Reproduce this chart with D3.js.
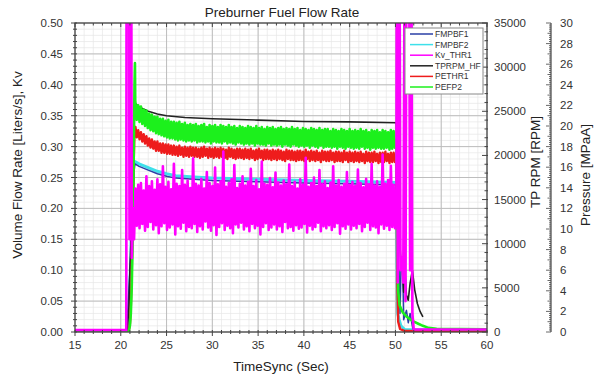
<!DOCTYPE html>
<html>
<head>
<meta charset="utf-8">
<script src="https://cdn.jsdelivr.net/npm/d3@7"></script>
<style>
  body { margin: 0; background: #fff; }
  svg { font-family: "Liberation Sans", Arial, sans-serif; }
</style>
</head>
<body>
<div id="chart"></div>
<script>
// steady-state noise bands, sampled every 0.3 s from 21.6 to 49.8 s (hi, then lo half a step later)
const bandStart = 21.6;
const bandStep = 0.3;

const kvHi = [.232,.238,.241,.229,.252,.236,.244,.230,.247,.239,
  .268,.235,.243,.231,.272,.240,.236,.262,.238,.245,
  .233,.281,.240,.237,.248,.232,.259,.241,.236,.266,
  .239,.244,.292,.235,.241,.247,.270,.233,.240,.252,
  .237,.243,.264,.236,.246,.231,.276,.240,.238,.249,
  .234,.258,.242,.237,.245,.239,.271,.236,.243,.232,
  .247,.238,.282,.235,.241,.250,.236,.262,.239,.244,
  .233,.242,.268,.237,.246,.235,.240,.259,.238,.243,
  .236,.263,.241,.234,.248,.239,.272,.237,.244,.235,
  .287,.240,.246,.269,.238];
const kvLo = [.172,.168,.175,.164,.170,.178,.166,.173,.160,.171,
  .176,.165,.169,.174,.158,.171,.167,.177,.163,.170,
  .168,.175,.162,.171,.166,.179,.169,.164,.173,.157,
  .170,.176,.165,.172,.168,.160,.174,.169,.177,.166,
  .171,.163,.175,.168,.172,.158,.170,.176,.165,.169,
  .174,.166,.171,.162,.178,.168,.170,.164,.173,.167,
  .169,.175,.161,.172,.166,.170,.177,.163,.171,.168,
  .173,.165,.170,.176,.159,.171,.167,.174,.166,.172,
  .168,.175,.163,.170,.177,.165,.171,.169,.160,.174,
  .167,.172,.165,.170,.168];

const pefpHi = [22.3,22.0,21.9,21.6,21.5,21.2,21.1,20.9,20.9,20.7,
  20.7,20.5,20.6,20.4,20.4,20.3,20.4,20.2,20.3,20.1,
  20.2,20.1,20.2,20.0,20.1,20.2,19.9,20.1,20.0,20.1,
  19.9,20.1,20.0,19.9,20.1,19.9,20.0,19.8,20.0,19.9,
  19.8,20.0,19.9,19.8,20.0,19.8,19.9,19.7,19.9,19.8,
  19.9,19.7,19.8,19.9,19.7,19.8,19.7,19.9,19.7,19.8,
  19.6,19.8,19.7,19.6,19.8,19.7,19.6,19.8,19.6,19.7,
  19.7,19.5,19.7,19.6,19.5,19.7,19.6,19.5,19.7,19.5,
  19.6,19.5,19.7,19.5,19.6,19.4,19.6,19.5,19.6,19.4,
  19.6,19.5,19.4,19.6,19.5];
const pefpLo = [20.6,20.4,20.2,20.0,19.8,19.6,19.5,19.3,19.2,19.1,
  19.0,18.9,18.8,18.8,18.7,18.6,18.7,18.6,18.5,18.6,
  18.5,18.6,18.4,18.5,18.5,18.4,18.5,18.3,18.5,18.4,
  18.4,18.3,18.5,18.3,18.4,18.3,18.2,18.4,18.3,18.2,
  18.3,18.2,18.3,18.1,18.3,18.2,18.2,18.1,18.3,18.1,
  18.2,18.1,18.2,18.0,18.2,18.1,18.0,18.2,18.1,18.0,
  18.1,18.0,18.1,17.9,18.1,18.0,17.9,18.1,17.9,18.0,
  18.0,17.9,18.0,17.8,18.0,17.9,17.8,18.0,17.9,17.8,
  17.9,17.8,18.0,17.8,17.9,17.7,17.9,17.8,17.9,17.8,
  17.8,17.9,17.7,17.8,17.9];

const pethrHi = [19.9,19.6,19.4,19.2,19.0,18.8,18.7,18.5,18.5,18.3,
  18.3,18.2,18.2,18.1,18.1,18.0,18.1,17.9,18.0,17.9,
  18.0,17.9,17.9,17.8,17.9,18.0,17.8,17.9,17.8,17.9,
  17.8,17.9,17.8,17.7,17.9,17.8,17.7,17.8,17.8,17.7,
  17.8,17.7,17.8,17.6,17.7,17.8,17.6,17.7,17.7,17.6,
  17.7,17.6,17.7,17.6,17.5,17.7,17.6,17.6,17.5,17.6,
  17.6,17.5,17.7,17.5,17.6,17.5,17.6,17.4,17.6,17.5,
  17.5,17.6,17.4,17.5,17.5,17.4,17.6,17.4,17.5,17.4,
  17.5,17.4,17.5,17.3,17.5,17.4,17.4,17.5,17.3,17.4,
  17.4,17.5,17.3,17.4,17.4];
const pethrLo = [18.9,18.7,18.5,18.3,18.1,17.9,17.8,17.6,17.6,17.4,
  17.4,17.3,17.3,17.2,17.2,17.1,17.2,17.0,17.1,17.0,
  17.1,17.0,17.0,16.9,17.0,17.1,16.9,17.0,16.9,17.0,
  16.9,17.0,16.9,16.8,17.0,16.9,16.8,16.9,16.9,16.8,
  16.9,16.8,16.9,16.7,16.8,16.9,16.7,16.8,16.8,16.7,
  16.8,16.7,16.8,16.7,16.6,16.8,16.7,16.7,16.6,16.7,
  16.7,16.6,16.8,16.6,16.7,16.6,16.7,16.5,16.7,16.6,
  16.6,16.7,16.5,16.6,16.6,16.5,16.7,16.5,16.6,16.5,
  16.6,16.5,16.6,16.4,16.6,16.5,16.5,16.6,16.4,16.5,
  16.5,16.6,16.4,16.5,16.5];

// startup / shutdown parts as [time s, value]
const kvStart = [[15,0.003],[20.6,0.003],[20.63,0.6],[20.9,0.6],[20.95,0.15],[21.0,0.6],[21.15,0.6],[21.2,0.12],[21.35,0.2],[21.45,0.15]];
const kvEnd = [[50.1,0.2],[50.15,0.6],[50.25,0.08],[50.3,0.6],[50.45,0.6],[50.55,0.1],[50.7,0.12],[50.85,0.08],[51.0,0.6],[51.1,0.05],[51.2,0.6],[51.5,0.6],[51.6,0.1],[51.75,0.6],[51.85,0.03],[52.0,0.004],[60,0.004]];
const pefpStart = [[15,0],[20.85,0],[21.0,0.6],[21.1,1.8],[21.2,4.5],[21.3,9],[21.4,16],[21.5,24],[21.55,26.1],[21.58,22.5]];
const pefpEnd = [[50.1,18.6],[50.2,9],[50.3,4],[50.45,2.6],[50.8,1.9],[51.2,1.5],[51.9,1.05],[52.5,0.8],[53,0.6],[53.6,0.4],[54.5,0.3],[60,0.25]];
const pethrStart = [[15,0],[20.85,0],[21.0,0.8],[21.1,2.5],[21.2,6],[21.3,11],[21.4,16],[21.5,19.5]];
const pethrEnd = [[50.1,17.0],[50.2,5],[50.3,1],[50.5,0.3],[51,0.1],[60,0.05]];

const fmpbf1 = [[15,0.002],[20.6,0.003],[20.75,0.03],[21.0,0.1],[21.15,0.14],[21.3,0.2],[21.45,0.26],[21.55,0.272],
  [22,0.268],[23,0.262],[24,0.256],[25,0.252],[26,0.249],[28,0.247],[30,0.245],[35,0.243],[40,0.241],[45,0.240],[50.1,0.238],
  [50.2,0.1],[50.4,0.1],[50.5,0.03],[50.6,0.1],[50.8,0.1],[50.9,0.02],[51.2,0.035],[51.4,0.015],[51.6,0.03],[51.9,0.005],[52.5,0.002],[60,0.002]];
const fmpbf2 = [[15,0.001],[20.8,0.001],[20.9,0.03],[21.0,0.08],[21.1,0.12],[21.2,0.2],[21.4,0.27],[21.5,0.276],
  [22,0.272],[23,0.266],[24,0.260],[25,0.256],[26,0.253],[28,0.251],[30,0.249],[35,0.247],[40,0.245],[45,0.244],[50.1,0.242],
  [50.15,0.15],[50.25,0.03],[50.4,0.02],[50.6,0.01],[51,0.004],[60,0.003]];
const tprpm = [[15,0],[20.7,0],[20.9,3000],[21.0,7000],[21.1,10000],[21.2,15000],[21.35,22000],[21.5,25900],[21.7,25800],
  [22,25500],[23,25000],[24,24700],[25,24500],[27,24300],[30,24150],[35,24000],[40,23850],[45,23800],[50.1,23700],
  [50.3,15000],[50.45,10500],[50.6,8000],[50.75,7200],[50.9,4500],[51.05,6800],[51.2,4200],[51.4,3600],[51.6,5500],[51.85,7000],
  [52.1,4800],[52.4,3200],[52.7,2300],[53.0,1700]];

const seriesNames = ["FMPBF1", "FMPBF2", "Kv_THR1", "TPRPM_HF", "PETHR1", "PEFP2"];
const seriesColors = ["#2a3fa6", "#3ee0ea", "#ff00ff", "#222222", "#ee1c1c", "#1cf01c"];
const xTicks = [15, 20, 25, 30, 35, 40, 45, 50, 55, 60];
const flowTicks = [0, 0.05, 0.1, 0.15, 0.2, 0.25, 0.3, 0.35, 0.4, 0.45, 0.5];
const rpmTicks = [0, 5000, 10000, 15000, 20000, 25000, 30000, 35000];
const pressTicks = [0, 2, 4, 6, 8, 10, 12, 14, 16, 18, 20, 22, 24, 26, 28, 30];

function band(hi, lo) {
  const out = [];
  hi.forEach((v, i) => {
    const t = bandStart + i * bandStep;
    out.push([t, v]);
    out.push([t + bandStep / 2, lo[i]]);
  });
  return out;
}

const width = 606, height = 379;
const plotL = 75, plotR = 487, plotT = 23, plotB = 332;

const svg = d3.select("#chart").append("svg")
  .attr("width", width).attr("height", height);

const x = d3.scaleLinear().domain([15, 60]).range([plotL, plotR]);
const yFlow = d3.scaleLinear().domain([0, 0.5]).range([plotB, plotT]);
const yRpm = d3.scaleLinear().domain([0, 35000]).range([plotB, plotT]);
const yPress = d3.scaleLinear().domain([0, 30]).range([plotB, plotT]);

// grid
const grid = svg.append("g");
grid.selectAll("line.vmin").data(d3.range(15, 60.01, 1)).join("line")
  .attr("x1", d => x(d)).attr("x2", d => x(d)).attr("y1", plotT).attr("y2", plotB)
  .attr("stroke", "#e6e6e6").attr("stroke-width", 0.7);
grid.selectAll("line.hmin").data(d3.range(0, 0.501, 0.01)).join("line")
  .attr("y1", d => yFlow(d)).attr("y2", d => yFlow(d)).attr("x1", plotL).attr("x2", plotR)
  .attr("stroke", "#e6e6e6").attr("stroke-width", 0.7);
grid.selectAll("line.vmaj").data(xTicks).join("line")
  .attr("x1", d => x(d)).attr("x2", d => x(d)).attr("y1", plotT).attr("y2", plotB)
  .attr("stroke", "#bdbdbd").attr("stroke-width", 1);
grid.selectAll("line.hmaj").data(flowTicks).join("line")
  .attr("y1", d => yFlow(d)).attr("y2", d => yFlow(d)).attr("x1", plotL).attr("x2", plotR)
  .attr("stroke", "#bdbdbd").attr("stroke-width", 1);

// data
svg.append("clipPath").attr("id", "clip").append("rect")
  .attr("x", plotL).attr("y", plotT).attr("width", plotR - plotL).attr("height", plotB - plotT);
const plot = svg.append("g").attr("clip-path", "url(#clip)");

const lineOn = scale => d3.line().x(d => x(d[0])).y(d => scale(d[1]));

const drawn = [
  { data: fmpbf2, scale: yFlow, color: seriesColors[1], w: 3 },
  { data: fmpbf1, scale: yFlow, color: seriesColors[0], w: 1.5 },
  { data: tprpm, scale: yRpm, color: seriesColors[3], w: 1.6 },
  { data: pethrStart.concat(band(pethrHi, pethrLo), pethrEnd), scale: yPress, color: seriesColors[4], w: 2.4 },
  { data: pefpStart.concat(band(pefpHi, pefpLo), pefpEnd), scale: yPress, color: seriesColors[5], w: 2.6 },
  { data: kvStart.concat(band(kvHi, kvLo), kvEnd), scale: yFlow, color: seriesColors[2], w: 2.6 }
];
drawn.forEach(s => {
  plot.append("path").datum(s.data)
    .attr("fill", "none").attr("stroke", s.color).attr("stroke-width", s.w)
    .attr("stroke-linejoin", "round")
    .attr("d", lineOn(s.scale));
});

// frame
svg.append("rect").attr("x", plotL).attr("y", plotT).attr("width", plotR - plotL).attr("height", plotB - plotT)
  .attr("fill", "none").attr("stroke", "#444").attr("stroke-width", 1.2);

const tickCol = "#444";
// x ticks (bottom + top)
const xMinor = d3.range(15, 60.01, 1);
svg.selectAll("line.xb").data(xMinor).join("line")
  .attr("x1", d => x(d)).attr("x2", d => x(d))
  .attr("y1", plotB - 2).attr("y2", d => plotB + (d % 5 === 0 ? 4 : 2))
  .attr("stroke", tickCol);
svg.selectAll("line.xt").data(xMinor).join("line")
  .attr("x1", d => x(d)).attr("x2", d => x(d))
  .attr("y1", plotT).attr("y2", d => plotT + (d % 5 === 0 ? 4 : 2.5))
  .attr("stroke", tickCol);
// y ticks left + right frame
const yMinor = d3.range(0, 51, 1);
svg.selectAll("line.yl").data(yMinor).join("line")
  .attr("y1", d => yFlow(d / 100)).attr("y2", d => yFlow(d / 100))
  .attr("x1", d => plotL - (d % 5 === 0 ? 4 : 2)).attr("x2", plotL + 2)
  .attr("stroke", tickCol);
const rMinor = d3.range(0, 35001, 1000);
svg.selectAll("line.yr").data(rMinor).join("line")
  .attr("y1", d => yRpm(d)).attr("y2", d => yRpm(d))
  .attr("x1", d => plotR - (d % 5000 === 0 ? 5 : 2.5)).attr("x2", plotR + 1)
  .attr("stroke", tickCol);

const tickFont = 11.5;
const textCol = "#333";

// left axis labels
svg.selectAll("text.yl").data(flowTicks).join("text")
  .attr("x", plotL - 12).attr("y", d => yFlow(d) + 4)
  .attr("text-anchor", "end").attr("font-size", tickFont).attr("fill", textCol)
  .text(d => d3.format(".2f")(d));
// bottom labels
svg.selectAll("text.xl").data(xTicks).join("text")
  .attr("x", d => x(d)).attr("y", plotB + 17)
  .attr("text-anchor", "middle").attr("font-size", tickFont).attr("fill", textCol)
  .text(d => d);
// rpm labels
svg.selectAll("text.rl").data(rpmTicks).join("text")
  .attr("x", plotR + 7).attr("y", d => yRpm(d) + 4)
  .attr("font-size", tickFont).attr("fill", textCol)
  .text(d => d);

// pressure axis
const pAxisX = 551;
svg.append("line").attr("x1", pAxisX).attr("x2", pAxisX).attr("y1", plotT).attr("y2", plotB)
  .attr("stroke", tickCol).attr("stroke-width", 1.2);
svg.selectAll("line.pt").data(d3.range(0, 151, 1)).join("line")
  .attr("y1", d => yPress(d / 5)).attr("y2", d => yPress(d / 5))
  .attr("x1", d => pAxisX - (d % 10 === 0 ? 5 : d % 5 === 0 ? 3.5 : 2)).attr("x2", pAxisX)
  .attr("stroke", tickCol).attr("stroke-width", 0.8);
svg.selectAll("text.pl").data(pressTicks).join("text")
  .attr("x", pAxisX + 9).attr("y", d => yPress(d) + 4)
  .attr("font-size", tickFont).attr("fill", textCol)
  .text(d => d);

// titles
svg.append("text").attr("x", 282).attr("y", 17).attr("text-anchor", "middle")
  .attr("font-size", 13.5).attr("fill", "#222").text("Preburner Fuel Flow Rate");
svg.append("text").attr("x", 281).attr("y", 371).attr("text-anchor", "middle")
  .attr("font-size", 13.5).attr("fill", "#222").text("TimeSync (Sec)");
svg.append("text").attr("transform", "translate(22,165) rotate(-90)").attr("text-anchor", "middle")
  .attr("font-size", 13.5).attr("fill", "#222").text("Volume Flow Rate [Liters/s], Kv");
svg.append("text").attr("transform", "translate(540,162) rotate(-90)").attr("text-anchor", "middle")
  .attr("font-size", 13.5).attr("fill", "#222").text("TP RPM [RPM]");
svg.append("text").attr("transform", "translate(590,175) rotate(-90)").attr("text-anchor", "middle")
  .attr("font-size", 13.5).attr("fill", "#222").text("Pressure [MPaA]");

// legend
const lg = svg.append("g").attr("transform", "translate(405,28)");
lg.append("rect").attr("width", 78).attr("height", 66)
  .attr("fill", "#fff").attr("stroke", "#888").attr("stroke-width", 1);
seriesNames.forEach((name, i) => {
  const yy = 6 + i * 10.6;
  lg.append("line").attr("x1", 5).attr("x2", 28).attr("y1", yy).attr("y2", yy)
    .attr("stroke", seriesColors[i]).attr("stroke-width", 1.5);
  lg.append("text").attr("x", 30).attr("y", yy + 3).attr("font-size", 8.5).attr("fill", "#333").text(name);
});
</script>
</body>
</html>
